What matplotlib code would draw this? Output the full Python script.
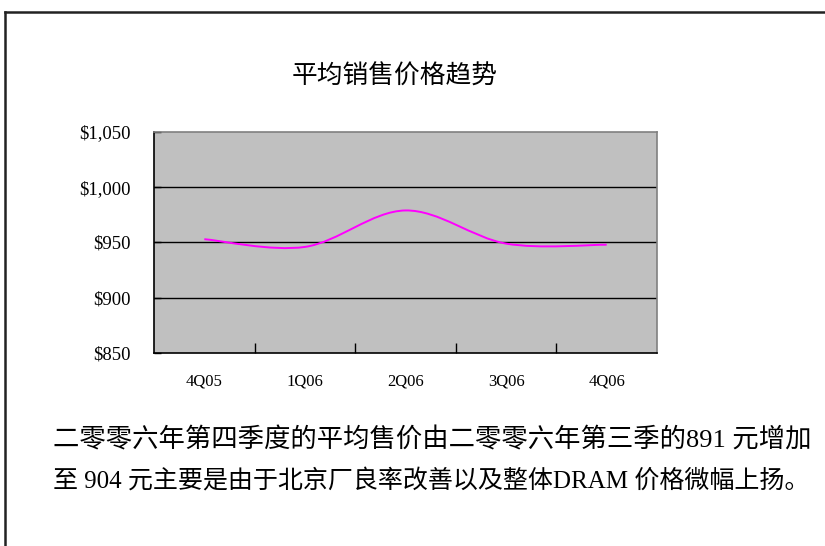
"""Average selling price trend (Excel-style smoothed line chart)."""

import matplotlib
matplotlib.use('Agg')
import matplotlib.pyplot as plt
from matplotlib.path import Path
from matplotlib.patches import PathPatch
from matplotlib.lines import Line2D
from matplotlib.ticker import FuncFormatter


quarters = ['4Q05', '1Q06', '2Q06', '3Q06', '4Q06']
asp = [953, 946, 979, 949, 948]
y_ticks = [850, 900, 950, 1000, 1050]

title = '平均销售价格趋势'
note_lines = [
    '二零零六年第四季度的平均售价由二零零六年第三季的891 元增加',
    '至 904 元主要是由于北京厂良率改善以及整体DRAM 价格微幅上扬。',
]

SERIF = ['Liberation Serif', 'Noto Sans CJK SC']
CJK = ['Noto Sans CJK SC', 'DejaVu Sans']


def smooth_path(xs, ys):
    """Excel-like smoothed line: Catmull-Rom segments as cubic Beziers."""
    pts = list(zip(xs, ys))
    verts = [pts[0]]
    codes = [Path.MOVETO]
    n = len(pts)
    for i in range(n - 1):
        p0 = pts[max(i - 1, 0)]
        p1 = pts[i]
        p2 = pts[i + 1]
        p3 = pts[min(i + 2, n - 1)]
        c1 = (p1[0] + (p2[0] - p0[0]) / 6, p1[1] + (p2[1] - p0[1]) / 6)
        c2 = (p2[0] - (p3[0] - p1[0]) / 6, p2[1] - (p3[1] - p1[1]) / 6)
        verts += [c1, c2, p2]
        codes += [Path.CURVE4] * 3
    return Path(verts, codes)


fig = plt.figure(figsize=(8.25, 5.46), dpi=100)
ax = fig.add_axes([154 / 825, 1 - 353 / 546, 503 / 825, 221 / 546])
ax.set_facecolor('#c0c0c0')

x = list(range(len(quarters)))
ax.add_patch(PathPatch(smooth_path(x, asp), facecolor='none',
                       edgecolor='#ff00ff', linewidth=1.4, zorder=3))

ax.set_xlim(-0.5, len(quarters) - 0.5)
ax.set_ylim(850, 1050)
ax.set_yticks(y_ticks)
ax.yaxis.set_major_formatter(FuncFormatter(lambda v, _: f'${v:,.0f}'))
ax.set_xticks(x)
ax.set_xticklabels(quarters)
ax.set_xticks([i + 0.5 for i in x[:-1]], minor=True)
ax.tick_params(axis='x', which='major', length=0, pad=15)
ax.tick_params(axis='x', which='minor', direction='in', length=7, width=1)
ax.tick_params(axis='y', direction='in', length=5, width=1, pad=17)
for lab in ax.get_xticklabels():
    lab.set_family(SERIF)
    lab.set_fontsize(12)
for lab in ax.get_yticklabels():
    lab.set_family(SERIF)
    lab.set_fontsize(13.5)

for v in y_ticks[1:-1]:
    ax.axhline(v, color='black', linewidth=1, zorder=2)

ax.spines['left'].set_color('black')
ax.spines['bottom'].set_color('black')
ax.spines['top'].set_color('#808080')
ax.spines['right'].set_color('#808080')
for s in ax.spines.values():
    s.set_linewidth(1.2)

fig.text(395 / 825, 1 - 77 / 546, title, family=CJK, fontsize=18.5,
         ha='center', va='center')

# body text, each line scaled to span the same width as in the source
renderer = fig.canvas.get_renderer()
target_w = 812 - 53
for i, line in enumerate(note_lines):
    t = fig.text(53 / 825, 1 - (440 + 41 * i) / 546, line, family=SERIF,
                 fontsize=18.5, ha='left', va='center')
    w = t.get_window_extent(renderer).width
    t.set_fontsize(18.5 * target_w / w)

# outer frame (top and left edges visible)
fig.add_artist(Line2D([5 / 825, 1], [1 - 12 / 546] * 2, color='#222222',
                      linewidth=1.8, transform=fig.transFigure))
fig.add_artist(Line2D([5 / 825] * 2, [0, 1 - 12 / 546], color='#222222',
                      linewidth=1.8, transform=fig.transFigure))

fig.savefig('out.png', dpi=100)
